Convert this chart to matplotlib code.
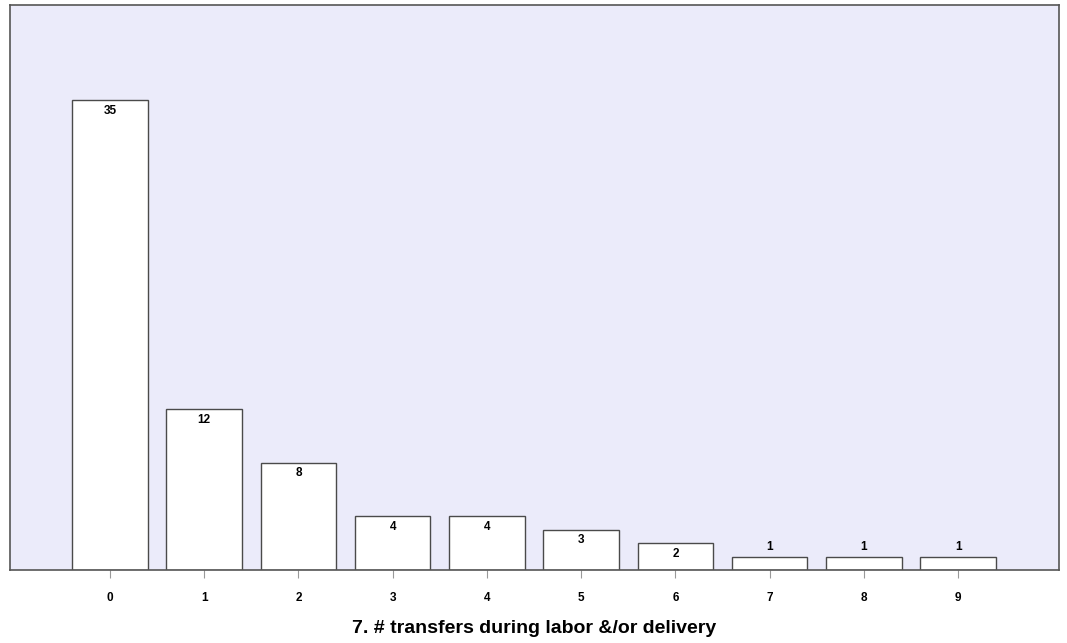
import matplotlib.pyplot as plt

categories = ["0", "1", "2", "3", "4", "5", "6", "7", "8", "9"]
counts = [35, 12, 8, 4, 4, 3, 2, 1, 1, 1]
xlabel = "7. # transfers during labor &/or delivery"

plt.rcParams['font.family'] = ['Liberation Sans', 'DejaVu Sans']

fig = plt.figure(figsize=(10.67, 6.43), dpi=100)
ax = fig.add_axes([0.0094, 0.1135, 0.9831, 0.8787])
ax.set_facecolor("#ebebfa")

pos = list(range(len(categories)))
ax.bar(pos, counts, width=0.8, color="white", edgecolor="#4a4a4a", linewidth=1.0, zorder=2)

for x, v in zip(pos, counts):
    if v >= 2:
        ax.text(x, v - 0.35, str(v), ha="center", va="top", fontsize=8.5, fontweight="bold")
    else:
        ax.text(x, v + 0.25, str(v), ha="center", va="bottom", fontsize=8.5, fontweight="bold")

ax.set_xlim(-1.06, 10.07)
ax.set_ylim(0, 42.07)
ax.set_xticks(pos)
ax.set_xticklabels(categories, fontsize=8.5, fontweight="bold")
ax.set_yticks([])
ax.tick_params(axis="x", length=6, color="#999999", pad=10)
for s in ax.spines.values():
    s.set_color("#555555")
    s.set_linewidth(1.2)
ax.set_xlabel(xlabel, fontsize=14, fontweight="bold", labelpad=11)

fig.savefig("out.png", dpi=100)
